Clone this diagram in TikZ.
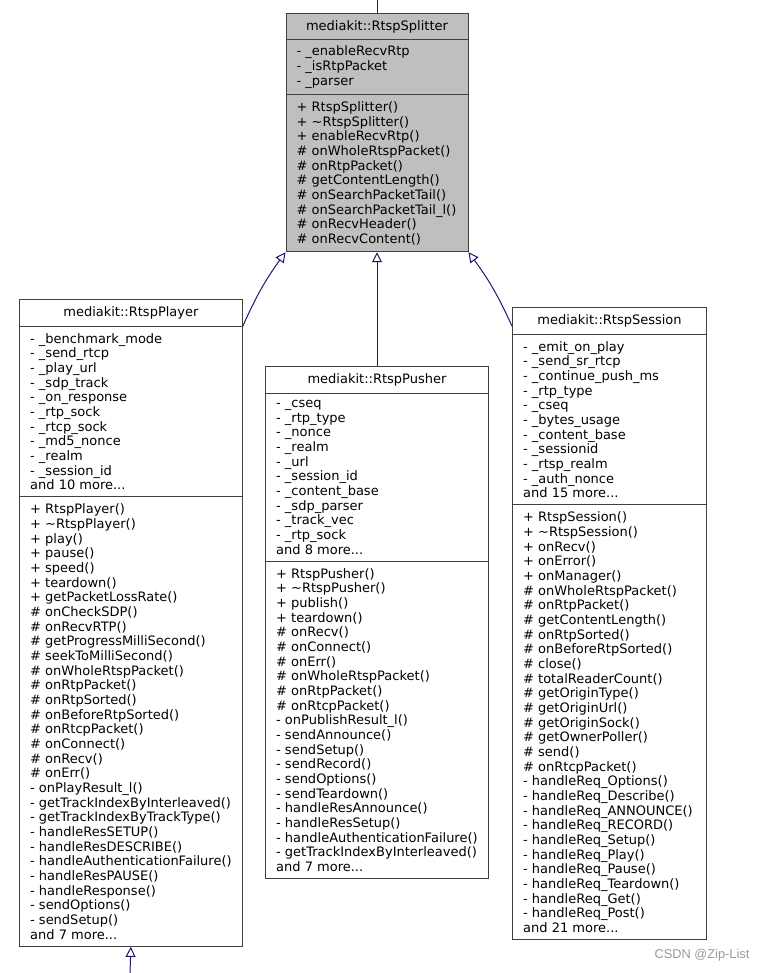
\documentclass[tikz,border=0pt]{standalone}
\usepackage{fontspec}
\setmainfont{DejaVu Sans}
\newfontfamily\wmfont{Liberation Sans}
\usetikzlibrary{shapes.multipart,arrows.meta,positioning}
\definecolor{boxgray}{HTML}{404040}
\definecolor{splitgray}{HTML}{BFBFBF}
\definecolor{edgeblue}{HTML}{191970}

\begin{document}
\begin{tikzpicture}[
          x=0.75pt, y=-0.75pt,
          classbox/.style={draw=boxgray, line width=0.75pt, fill=white,
            rectangle split, rectangle split parts=3,
            rectangle split part align={center,left,left},
            align=left, inner xsep=8pt, inner ysep=4.9pt,
            font=\fontsize{9.75}{11}\selectfont},
          baseclass/.style={classbox, fill=splitgray, inner ysep=4.6pt},
          inherit/.style={draw=edgeblue, line width=0.75pt,
            -{Triangle[open, length=7.5pt, width=7.5pt]}}
        ]
        \useasboundingbox (0,0) rectangle (766,973);
        \node[baseclass, minimum width=136.5pt, anchor=north] (splitter) at (377,13)
          {mediakit::RtspSplitter
           \nodepart{two}- \_enableRecvRtp\\- \_isRtpPacket\\- \_parser
           \nodepart{three}+ RtspSplitter()\\+ \textasciitilde RtspSplitter()\\+ enableRecvRtp()\\\# onWholeRtspPacket()\\\# onRtpPacket()\\\# getContentLength()\\\# onSearchPacketTail()\\\# onSearchPacketTail\_l()\\\# onRecvHeader()\\\# onRecvContent()};
        \node[classbox, minimum width=166.5pt, anchor=north west] (player) at (19,299)
          {mediakit::RtspPlayer
           \nodepart{two}- \_benchmark\_mode\\- \_send\_rtcp\\- \_play\_url\\- \_sdp\_track\\- \_on\_response\\- \_rtp\_sock\\- \_rtcp\_sock\\- \_md5\_nonce\\- \_realm\\- \_session\_id\\and 10 more...
           \nodepart{three}+ RtspPlayer()\\+ \textasciitilde RtspPlayer()\\+ play()\\+ pause()\\+ speed()\\+ teardown()\\+ getPacketLossRate()\\\# onCheckSDP()\\\# onRecvRTP()\\\# getProgressMilliSecond()\\\# seekToMilliSecond()\\\# onWholeRtspPacket()\\\# onRtpPacket()\\\# onRtpSorted()\\\# onBeforeRtpSorted()\\\# onRtcpPacket()\\\# onConnect()\\\# onRecv()\\\# onErr()\\- onPlayResult\_l()\\- getTrackIndexByInterleaved()\\- getTrackIndexByTrackType()\\- handleResSETUP()\\- handleResDESCRIBE()\\- handleAuthenticationFailure()\\- handleResPAUSE()\\- handleResponse()\\- sendOptions()\\- sendSetup()\\and 7 more...};
        \node[classbox, minimum width=167.25pt, anchor=north west] (pusher) at (265,366)
          {mediakit::RtspPusher
           \nodepart{two}- \_cseq\\- \_rtp\_type\\- \_nonce\\- \_realm\\- \_url\\- \_session\_id\\- \_content\_base\\- \_sdp\_parser\\- \_track\_vec\\- \_rtp\_sock\\and 8 more...
           \nodepart{three}+ RtspPusher()\\+ \textasciitilde RtspPusher()\\+ publish()\\+ teardown()\\\# onRecv()\\\# onConnect()\\\# onErr()\\\# onWholeRtspPacket()\\\# onRtpPacket()\\\# onRtcpPacket()\\- onPublishResult\_l()\\- sendAnnounce()\\- sendSetup()\\- sendRecord()\\- sendOptions()\\- sendTeardown()\\- handleResAnnounce()\\- handleResSetup()\\- handleAuthenticationFailure()\\- getTrackIndexByInterleaved()\\and 7 more...};
        \node[classbox, minimum width=145.5pt, anchor=north west] (session) at (512,307)
          {mediakit::RtspSession
           \nodepart{two}- \_emit\_on\_play\\- \_send\_sr\_rtcp\\- \_continue\_push\_ms\\- \_rtp\_type\\- \_cseq\\- \_bytes\_usage\\- \_content\_base\\- \_sessionid\\- \_rtsp\_realm\\- \_auth\_nonce\\and 15 more...
           \nodepart{three}+ RtspSession()\\+ \textasciitilde RtspSession()\\+ onRecv()\\+ onError()\\+ onManager()\\\# onWholeRtspPacket()\\\# onRtpPacket()\\\# getContentLength()\\\# onRtpSorted()\\\# onBeforeRtpSorted()\\\# close()\\\# totalReaderCount()\\\# getOriginType()\\\# getOriginUrl()\\\# getOriginSock()\\\# getOwnerPoller()\\\# send()\\\# onRtcpPacket()\\- handleReq\_Options()\\- handleReq\_Describe()\\- handleReq\_ANNOUNCE()\\- handleReq\_RECORD()\\- handleReq\_Setup()\\- handleReq\_Play()\\- handleReq\_Pause()\\- handleReq\_Teardown()\\- handleReq\_Get()\\- handleReq\_Post()\\and 21 more...};
        \coordinate (base) at (377,0);
        \coordinate (derived) at (130,973);
        \draw[draw=edgeblue, line width=0.75pt] (splitter.north) -- (base);
        \draw[inherit] (player.one split east) to[bend left=6] (splitter.south west);
        \draw[inherit] (pusher.north) -- (splitter.south);
        \draw[inherit] (session.west |- player.one split east) to[bend right=6] (splitter.south east);
        \draw[inherit] (derived) -- (player.south);
        \node[text=gray!80, font=\wmfont\fontsize{9.6}{11}\selectfont] (mark) at (702,955) {CSDN @Zip-List};
        \end{tikzpicture}
\end{document}
